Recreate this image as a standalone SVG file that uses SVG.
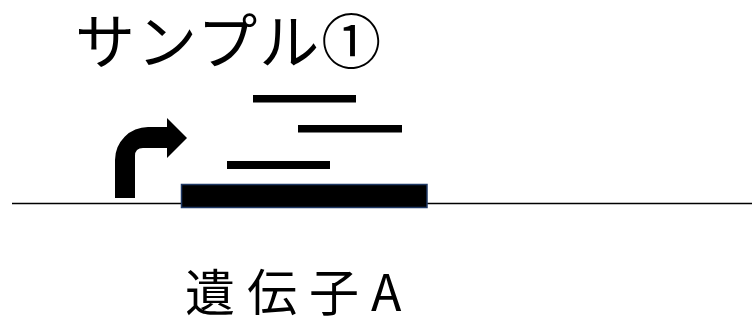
<svg xmlns="http://www.w3.org/2000/svg" width="752" height="323" viewBox="0 0 752 323">
<style>
.t{font-family:"Noto Sans CJK JP","Noto Sans",sans-serif;fill:#000;}
.bar{fill:#000;}
</style>
<rect width="752" height="323" fill="#fff"/>
<g id="title"><text class="t" x="75" y="64" font-size="60" letter-spacing="2">サンプル①</text></g>
<g id="baseline"><line x1="12" y1="203.5" x2="752" y2="203.5" stroke="#000" stroke-width="1.3"/></g>
<g id="promoter"><path d="M115,198 L115,160 A33,33 0 0 1 148,127 L167,127 L167,118 L187,138 L167,158 L167,148 L143,148 Q135,148 135,156 L135,198 Z" fill="#000"/></g>
<g id="gene"><rect x="181.5" y="184.5" width="245.5" height="23" fill="#000" stroke="#1F3864" stroke-width="1.5"/></g>
<g id="reads">
<rect class="bar" x="253" y="95" width="103" height="7.5"/>
<rect class="bar" x="298" y="125" width="104" height="7.5"/>
<rect class="bar" x="227" y="161" width="103" height="8"/>
</g>
<g id="label"><text class="t" x="185" y="311" font-size="50" letter-spacing="12">遺伝子A</text></g>
</svg>
